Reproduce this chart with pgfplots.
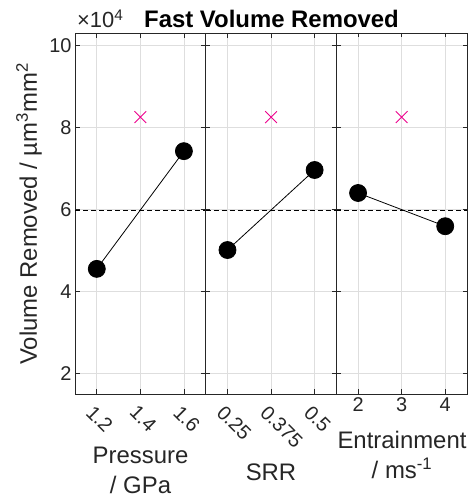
\documentclass[border=0pt]{standalone}
\usepackage{pgfplots}
\pgfplotsset{compat=1.18}
\usepackage{fontspec}
\setmainfont{Liberation Sans}

\definecolor{axgray}{gray}{0.15}
\definecolor{gridgray}{gray}{0.87}

\pgfplotsset{
  panel/.style={
    scale only axis, width=130.7bp, height=361bp,
    ymin=1.5, ymax=10.3, ytick={2,4,6,8,10},
    grid=major, major grid style={gridgray, line width=0.7bp},
    axis line style={axgray, line width=0.8bp},
    tick style={axgray, line width=0.8bp},
    tick align=inside, major tick length=4.5bp,
    tick label style={font=\fontsize{20}{24}\selectfont, text=axgray},
    yticklabels={},
  },
  rotlabels/.style={
    xticklabel style={xshift=-2bp, yshift=-10bp, rotate=-45,
      anchor=north west, inner sep=0bp},
  },
  meanline/.style={black, line width=1.3bp, dash pattern=on 5bp off 3bp},
  effect/.style={black, line width=0.8bp, mark=*, mark size=8.5bp,
    mark options={solid, fill=black}},
  pred/.style={only marks, mark=x, mark size=8.3bp, magenta, line width=0.9bp},
}

\begin{document}
\begin{tikzpicture}
% Pressure
\begin{axis}[panel, rotlabels, at={(75bp,107bp)}, anchor=south west,
  xmin=1.1, xmax=1.7, xtick={1.2,1.4,1.6}, xticklabels={1.2,1.4,1.6},
  yticklabels={2,4,6,8,10}]
  \addplot[meanline] coordinates {(1.1,5.98) (1.7,5.98)};
  \addplot[effect] coordinates {(1.2,4.55) (1.6,7.42)};
  \addplot[pred] coordinates {(1.4,8.25)};
\end{axis}
% SRR
\begin{axis}[panel, rotlabels, at={(205.7bp,107bp)}, anchor=south west,
  xmin=0.1875, xmax=0.5625, xtick={0.25,0.375,0.5}, xticklabels={0.25,0.375,0.5}]
  \addplot[meanline] coordinates {(0.1875,5.98) (0.5625,5.98)};
  \addplot[effect] coordinates {(0.25,5.01) (0.5,6.96)};
  \addplot[pred] coordinates {(0.375,8.25)};
\end{axis}
% Entrainment
\begin{axis}[panel, at={(336.3bp,107bp)}, anchor=south west,
  xmin=1.5, xmax=4.5, xtick={2,3,4}, xticklabels={2,3,4}]
  \addplot[meanline] coordinates {(1.5,5.98) (4.5,5.98)};
  \addplot[effect] coordinates {(2,6.40) (4,5.59)};
  \addplot[pred] coordinates {(3,8.25)};
\end{axis}

% title, exponent and axis labels
\node[anchor=base, font=\fontsize{24}{28}\selectfont\bfseries] at (271.5bp,473bp) {Fast Volume Removed};
\node[anchor=base west, inner sep=0bp, text=axgray, font=\fontsize{22}{26}\selectfont] at (77bp,473bp) {×10\textsuperscript{4}};
\node[rotate=90, text=axgray, font=\fontsize{24}{28}\selectfont] at (29bp,287bp) {Volume Removed / µm\textsuperscript{3}mm\textsuperscript{2}};
\node[align=center, text=axgray, font=\fontsize{24}{30}\selectfont] at (140.5bp,31bp) {Pressure\\/ GPa};
\node[text=axgray, font=\fontsize{24}{28}\selectfont] at (271bp,29bp) {SRR};
\node[align=center, text=axgray, font=\fontsize{24}{30}\selectfont] at (402bp,46bp) {Entrainment\\/ ms\textsuperscript{-1}};

\pgfresetboundingbox
\path[use as bounding box] (0,0) rectangle (470bp,501bp);
\end{tikzpicture}
\end{document}
